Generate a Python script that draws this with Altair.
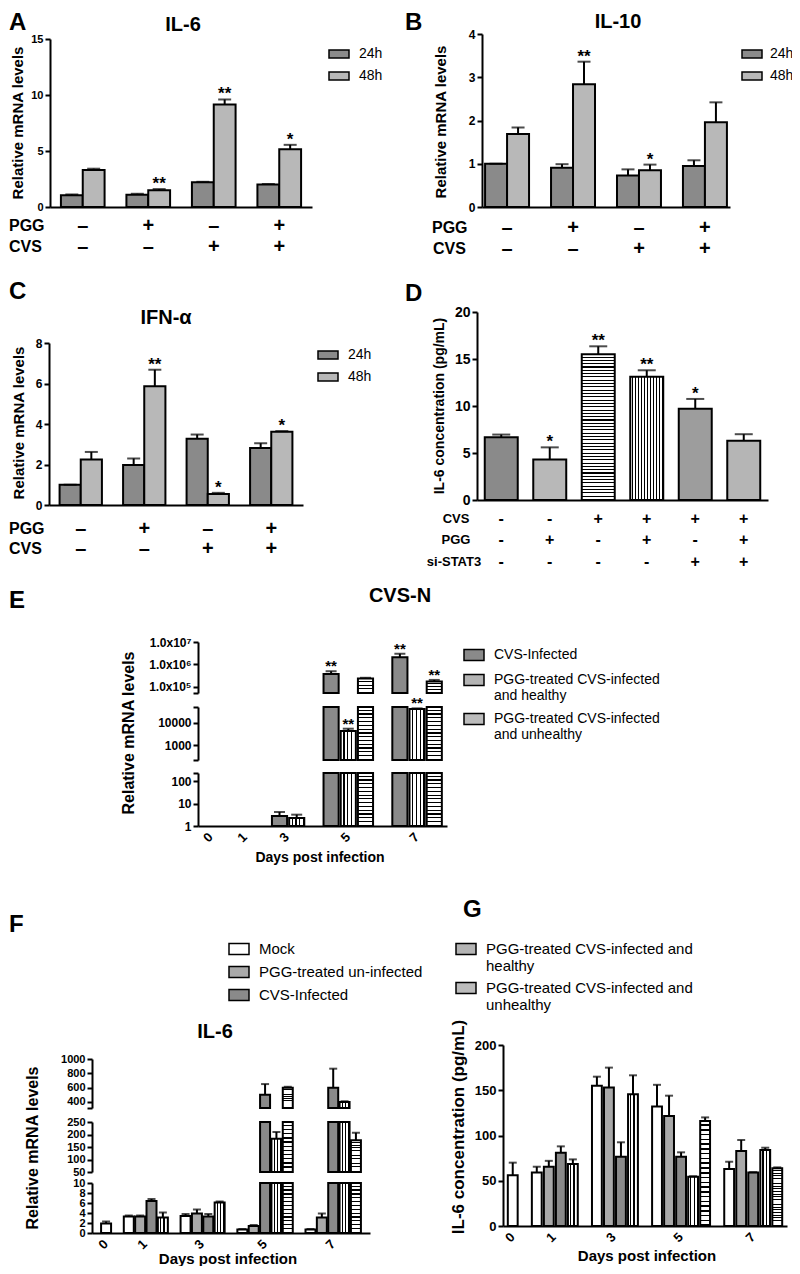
import altair as alt
import pandas as pd

W, H, M = 784, 1258, 8
FONT = "Liberation Sans"


def px(v):
    return v - M


def py(v):
    return v - M


# grey stand-ins for the hatch patterns (legend swatches and checker / diagonal fills)
FILL_FINE_CHECK = "#8a8a8a"
FILL_COARSE_CHECK = "#b8b8b8"
FILL_MOCK = "#ffffff"
FILL_DIAG = "#a9a9a9"
FILL_VERT = "#b4b4b4"
FILL_HORIZ = "#bcbcbc"
FILL_DIAG_FINE = "#9d9d9d"
FILL_DIAG_FINE2 = "#b5b5b5"

RECT_THIN = "M-1,-0.4H1V0.4H-1Z"
RECT = "M-1,-0.55H1V0.55H-1Z"

# ---------------- data: panels A, B, C ----------------
ABC_GROUPS = ["g1", "g2", "g3", "g4"]
ABC_TIMES = ["24h", "48h"]
PGG_SIGNS = ["–", "+", "–", "+"]
CVS_SIGNS = ["–", "–", "+", "+"]

A_MEAN_24 = [1.05, 1.1, 2.2, 2.0]
A_ERR_24 = [1.12, 1.18, 2.25, 2.06]
A_MEAN_48 = [3.3, 1.5, 9.15, 5.15]
A_ERR_48 = [3.42, 1.6, 9.6, 5.55]
A_STAR_48 = ["", "**", "**", "*"]

B_MEAN_24 = [1.0, 0.91, 0.73, 0.95]
B_ERR_24 = [1.0, 0.99, 0.87, 1.08]
B_MEAN_48 = [1.69, 2.84, 0.85, 1.96]
B_ERR_48 = [1.84, 3.36, 0.98, 2.42]
B_STAR_48 = ["", "**", "*", ""]

C_MEAN_24 = [1.0, 1.97, 3.27, 2.82]
C_ERR_24 = [1.0, 2.3, 3.48, 3.05]
C_MEAN_48 = [2.25, 5.86, 0.54, 3.62]
C_ERR_48 = [2.62, 6.68, 0.6, 3.65]
C_STAR_48 = ["", "**", "*", "*"]

# ---------------- data: panel D ----------------
D_CONDS = ["c1", "c2", "c3", "c4", "c5", "c6"]
D_CVS = ["-", "-", "+", "+", "+", "+"]
D_PGG = ["-", "+", "-", "+", "-", "+"]
D_STAT3 = ["-", "-", "-", "-", "+", "+"]
D_MEAN = [6.68, 4.3, 15.5, 13.1, 9.7, 6.3]
D_ERR = [6.96, 5.6, 16.35, 13.8, 10.75, 7.0]
D_STAR = ["", "*", "**", "**", "*", ""]

# ---------------- data: panel E ----------------
DAYS = [0, 1, 3, 5, 7]
S_MOCK = "Mock"
S_PGG = "PGG-treated un-infected"
S_CVS = "CVS-Infected"
S_HEALTHY = "PGG-treated CVS-infected and healthy"
S_UNHEALTHY = "PGG-treated CVS-infected and unhealthy"

E_MEAN_CVS = [1, 1, 2.8, 3.8e5, 2.1e6]
E_ERR_CVS = [None, None, 4.2, 5.0e5, 3.0e6]
E_STAR_CVS = ["", "", "", "**", "**"]
E_MEAN_HEALTHY = [None, None, 2.3, 4300, 43000]
E_ERR_HEALTHY = [None, None, 3.2, 5500, 46000]
E_STAR_HEALTHY = ["", "", "", "**", "**"]
E_MEAN_UNHEALTHY = [None, None, None, 2.4e5, 1.75e5]
E_ERR_UNHEALTHY = [None, None, None, 2.55e5, 2.05e5]
E_STAR_UNHEALTHY = ["", "", "", "", "**"]

# ---------------- data: panel F (IL-6 mRNA) ----------------
F_MEAN_MOCK = [1.9, 3.3, 3.4, 0.7, 0.7]
F_ERR_MOCK = [2.3, 3.5, 3.8, 0.8, 0.8]
F_MEAN_PGG = [None, 3.3, 3.9, 1.4, 3.1]
F_ERR_PGG = [None, 3.5, 4.7, 1.6, 3.9]
F_MEAN_CVS = [None, 6.4, 3.3, 500, 600]
F_ERR_CVS = [None, 6.8, 3.8, 650, 865]
F_MEAN_HEALTHY = [None, 3.1, 6.1, 183, 400]
F_ERR_HEALTHY = [None, 4.1, 6.3, 210, 410]
F_MEAN_UNHEALTHY = [None, None, None, 600, 177]
F_ERR_UNHEALTHY = [None, None, None, 612, 207]

# ---------------- data: panel G (IL-6 protein) ----------------
G_MEAN_MOCK = [56, 59, 155, 132, 63]
G_ERR_MOCK = [70, 65.5, 165, 156, 71]
G_MEAN_PGG = [None, 65.5, 153, 121.5, 83]
G_ERR_PGG = [None, 72, 175, 144, 95]
G_MEAN_CVS = [None, 81, 76.6, 76.6, 59]
G_ERR_CVS = [None, 88, 92.5, 81.4, 59.5]
G_MEAN_HEALTHY = [None, 68.5, 145.5, 54.5, 84]
G_ERR_HEALTHY = [None, 73.6, 166.5, 55, 86.5]
G_MEAN_UNHEALTHY = [None, None, None, 116, 63.7]
G_ERR_UNHEALTHY = [None, None, None, 120, 64.8]


# ---------------- helpers ----------------
def stripes(n, vertical, frac):
    """Linear gradient with hard stops = n black stripes on white."""
    stops = []
    for k in range(n):
        a = round(k / n, 5)
        b = round((k + 1 - frac) / n, 5)
        c = round((k + 1) / n, 5)
        stops += [{"offset": a, "color": "white"}, {"offset": b, "color": "white"},
                  {"offset": b, "color": "black"}, {"offset": c, "color": "black"}]
    return {"gradient": "linear", "stops": stops, "x1": 0, "y1": 0,
            "x2": 1 if vertical else 0, "y2": 0 if vertical else 1}


def label(text, x, y, size, bold=True, align="center", baseline="middle", angle=None):
    kw = dict(font=FONT, fontSize=size, fontWeight="bold" if bold else "normal",
              align=align, baseline=baseline, color="black")
    if angle is not None:
        kw["angle"] = angle
    return alt.Chart(pd.DataFrame({"t": [text]})).mark_text(**kw).encode(
        x=alt.value(px(x)), y=alt.value(py(y)), text="t:N")


def make_legend(x, y, fs, sym, rowpad, values=None, expr=None, offset=9):
    kw = dict(title=None, orient="none", legendX=px(x), legendY=py(y), direction="vertical",
              symbolType=sym, symbolSize=400, symbolStrokeColor="black", symbolStrokeWidth=1.5,
              labelFont=FONT, labelFontSize=fs, labelColor="black", labelLimit=600,
              labelOffset=offset, rowPadding=rowpad)
    if values:
        kw["values"] = values
    if expr:
        kw["labelExpr"] = expr
    return alt.Legend(**kw)


def bar_stack(df, xs, ys, xax, yax, fill, cap, star_fs, lo=None, hi=None, sw=2):
    src = alt.Chart(df)
    bar_src = src if lo is None else src.transform_filter(f"datum.mean > {lo}")
    cond = "isValid(datum.err)"
    if lo is not None:
        cond += f" && datum.err > {lo} && datum.err <= {hi}"
    err_src = src.transform_filter(cond)
    star_src = src.transform_filter(cond + " && datum.star != ''")

    X = alt.X("key:N", scale=xs, axis=xax)

    bars = bar_src.mark_bar(stroke="black", strokeWidth=sw).encode(
        x=X, y=alt.Y("mean:Q", scale=ys, axis=yax), y2="base:Q", fill=fill)
    rule = err_src.mark_rule(color="black", strokeWidth=sw).encode(
        x=X, y=alt.Y("mean:Q", scale=ys, axis=yax), y2="err:Q")
    tick = err_src.mark_tick(color="black", thickness=sw, size=cap, orient="horizontal").encode(
        x=X, y=alt.Y("err:Q", scale=ys, axis=yax))
    star = star_src.mark_text(font=FONT, fontSize=star_fs, fontWeight="bold", color="black",
                              baseline="alphabetic").encode(
        x=X, y=alt.Y("err:Q", scale=ys, axis=yax), text="star:N")
    return [bars, rule, tick, star]


def abc_panel(m24, e24, m48, e48, s48, ydom, yticks, xr, yr, pout, legend, tbl_y, tick_fs):
    keys, rows, tbl = [], [], []
    for i, g in enumerate(ABC_GROUPS):
        if i:
            keys.append(f"gap{i}")
        k24, k48 = f"{g}|24h", f"{g}|48h"
        keys += [k24, k48]
        rows.append({"key": k24, "series": "24h", "mean": m24[i], "err": e24[i], "star": "", "base": 0.0})
        rows.append({"key": k48, "series": "48h", "mean": m48[i], "err": e48[i], "star": s48[i], "base": 0.0})
        tbl.append({"key": k24, "PGG": PGG_SIGNS[i], "CVS": CVS_SIGNS[i]})
    df = pd.DataFrame(rows)
    tdf = pd.DataFrame(tbl)
    xs = alt.Scale(domain=keys, range=[px(xr[0]), px(xr[1])], paddingInner=0, paddingOuter=pout)
    ys = alt.Scale(domain=ydom, range=[py(yr[0]), py(yr[1])], nice=False, zero=False)
    xax = alt.Axis(orient="bottom", offset=py(yr[0]) - H, labels=False, ticks=False, title=None, grid=False)
    yax = alt.Axis(orient="left", offset=-px(xr[0]), values=yticks, title=None, grid=False,
                   labelFontSize=tick_fs, labelOverlap=False)
    fill = alt.Fill("series:N", scale=alt.Scale(domain=ABC_TIMES, range=[FILL_FINE_CHECK, FILL_COARSE_CHECK]),
                    legend=legend)
    layers = bar_stack(df, xs, ys, xax, yax, fill, cap=13, star_fs=17)
    for name, yy in zip(["PGG", "CVS"], tbl_y):
        layers.append(alt.Chart(tdf).mark_text(font=FONT, fontSize=20, fontWeight="bold", color="black",
                                               baseline="middle").encode(
            x=alt.X("key:N", scale=xs, axis=xax, bandPosition=1), y=alt.value(py(yy)), text=f"{name}:N"))
    return alt.layer(*layers)


def d_panel():
    rows = []
    for i, c in enumerate(D_CONDS):
        rows.append({"key": c, "series": c, "mean": D_MEAN[i], "err": D_ERR[i], "star": D_STAR[i],
                     "base": 0.0, "CVS": D_CVS[i], "PGG": D_PGG[i], "STAT3": D_STAT3[i]})
    df = pd.DataFrame(rows)
    xs = alt.Scale(domain=D_CONDS, range=[px(477), px(768)], paddingInner=0.32, paddingOuter=0.16)
    ys = alt.Scale(domain=[0, 20], range=[py(500), py(312)], nice=False, zero=False)
    xax = alt.Axis(orient="bottom", offset=py(500) - H, labels=False, ticks=False, title=None, grid=False)
    yax = alt.Axis(orient="left", offset=-px(477), values=[0, 5, 10, 15, 20], title=None, grid=False,
                   labelFontSize=14, labelOverlap=False)
    fill = alt.Fill("series:N", scale=alt.Scale(domain=D_CONDS, range=[
        FILL_FINE_CHECK, FILL_COARSE_CHECK, FILL_HORIZ, FILL_VERT, FILL_DIAG_FINE, FILL_DIAG_FINE2]), legend=None,
        condition=[{"test": "datum.series == 'c3'", "value": stripes(44, False, 0.32)},
                   {"test": "datum.series == 'c4'", "value": stripes(11, True, 0.3)}])
    layers = bar_stack(df, xs, ys, xax, yax, fill, cap=18, star_fs=17)
    for name, yy in zip(["CVS", "PGG", "STAT3"], [519, 540, 562]):
        layers.append(alt.Chart(df).mark_text(font=FONT, fontSize=16, fontWeight="bold", color="black",
                                              baseline="middle").encode(
            x=alt.X("key:N", scale=xs, axis=xax), y=alt.value(py(yy)), text=f"{name}:N"))
    return alt.layer(*layers)


def days_panel(series, means, errs, stars, fills, xr, pin, pout, segs, stype, base,
               yaxis_x, axis_y, leg, cap, star_fs, tick_fs, vstripes, day_fs=13):
    keys, rows, odd, even = [], [], [], []
    for j, d in enumerate(DAYS):
        slots = [s for s in series if means[s][j] is not None]
        if j:
            keys.append(f"gap{j}")
        for s in slots:
            k = f"{d}|{s}"
            keys.append(k)
            rows.append({"key": k, "series": s, "mean": means[s][j], "err": errs[s][j],
                         "star": stars[s][j] if stars else "", "base": base})
        n = len(slots)
        if n % 2:
            odd.append({"key": f"{d}|{slots[n // 2]}", "day": str(d)})
        else:
            even.append({"key": f"{d}|{slots[n // 2 - 1]}", "day": str(d)})
    df = pd.DataFrame(rows)
    xs = alt.Scale(domain=keys, range=[px(xr[0]), px(xr[1])], paddingInner=pin, paddingOuter=pout)
    xax = alt.Axis(orient="bottom", offset=py(axis_y) - H, labels=False, ticks=False,
                   title=None, grid=False)
    seg_layers = []
    for seg in segs:
        lo, hi = seg["domain"]
        fill = alt.Fill("series:N", scale=alt.Scale(domain=series, range=fills), legend=leg,
                        condition=[{"test": f"datum.series == '{S_HEALTHY}'", "value": stripes(vstripes, True, 0.35)},
                                   {"test": f"datum.series == '{S_UNHEALTHY}'",
                                    "value": stripes(seg["hstripes"], False, 0.32)}])
        ys = alt.Scale(type=stype, domain=[lo, hi], range=[py(seg["range"][0]), py(seg["range"][1])],
                       clamp=True, nice=False, zero=False)
        akw = dict(orient="left", offset=-px(yaxis_x), values=seg["ticks"], title=None, grid=False,
                   labelOverlap=False, labelFontSize=tick_fs)
        if seg.get("expr"):
            akw["labelExpr"] = seg["expr"]
        yax = alt.Axis(**akw)
        seg_layers.append(alt.layer(*bar_stack(df, xs, ys, xax, yax, fill, cap, star_fs, lo, hi)))
    labels = []
    for data, pos in ((odd, 0.5), (even, 1.0)):
        if data:
            labels.append(alt.Chart(pd.DataFrame(data)).mark_text(
                font=FONT, fontSize=day_fs, fontWeight="bold", color="black", angle=315,
                align="right", baseline="middle").encode(
                x=alt.X("key:N", scale=xs, axis=xax, bandPosition=pos),
                y=alt.value(py(axis_y + 9)), text="day:N"))
    out = alt.layer(*seg_layers, *labels)
    if len(seg_layers) > 1:
        out = out.resolve_scale(y="independent")
    return out


# ---------------- panels ----------------
pA = abc_panel(A_MEAN_24, A_ERR_24, A_MEAN_48, A_ERR_48, A_STAR_48, [0, 15], [0, 5, 10, 15],
               (50, 312), (207, 39), 0.5, make_legend(328, 43, 14, RECT_THIN, 4), (226, 247), 11)
pB = abc_panel(B_MEAN_24, B_ERR_24, B_MEAN_48, B_ERR_48, B_STAR_48, [0, 4], [0, 1, 2, 3, 4],
               (482, 730), (207, 34), 0.14, make_legend(741, 43, 14, RECT_THIN, 4, offset=7), (228, 249), 12)
pC = abc_panel(C_MEAN_24, C_ERR_24, C_MEAN_48, C_ERR_48, C_STAR_48, [0, 8], [0, 2, 4, 6, 8],
               (49, 303), (505, 343), 0.5, make_legend(317, 344, 14, RECT_THIN, 4), (529, 549), 12)
pD = d_panel()

E_SERIES = [S_CVS, S_HEALTHY, S_UNHEALTHY]
E_EXPR_LEG = ("datum.label == '" + S_HEALTHY + "' ? ['PGG-treated CVS-infected', 'and healthy'] : "
              "datum.label == '" + S_UNHEALTHY + "' ? ['PGG-treated CVS-infected', 'and unhealthy'] : datum.label")
E_SEGS = [
    dict(domain=[53700, 1e7], range=[693, 642], ticks=[53700, 1e5, 1e6, 1e7], hstripes=4,
         expr="datum.value == 100000 ? '1.0x10⁵' : datum.value == 1000000 ? '1.0x10⁶' : "
              "datum.value == 10000000 ? '1.0x10⁷' : ''"),
    dict(domain=[210, 53000], range=[760, 707], ticks=[210, 1000, 10000, 53000], hstripes=14,
         expr="(datum.value == 1000 || datum.value == 10000) ? datum.value + '' : ''"),
    dict(domain=[1, 230], range=[826, 773], ticks=[1, 10, 100, 230], hstripes=14,
         expr="datum.value == 230 ? '' : datum.value + ''"),
]
pE = days_panel(
    E_SERIES,
    {S_CVS: E_MEAN_CVS, S_HEALTHY: E_MEAN_HEALTHY, S_UNHEALTHY: E_MEAN_UNHEALTHY},
    {S_CVS: E_ERR_CVS, S_HEALTHY: E_ERR_HEALTHY, S_UNHEALTHY: E_ERR_UNHEALTHY},
    {S_CVS: E_STAR_CVS, S_HEALTHY: E_STAR_HEALTHY, S_UNHEALTHY: E_STAR_UNHEALTHY},
    [FILL_FINE_CHECK, FILL_VERT, FILL_HORIZ], (198, 447), 0.12, 0.3, E_SEGS, "log", 1.0,
    198, 826, make_legend(463, 644, 14, RECT, 5, expr=E_EXPR_LEG), cap=11, star_fs=15, tick_fs=12,
    vstripes=4)

FG_SERIES = [S_MOCK, S_PGG, S_CVS, S_HEALTHY, S_UNHEALTHY]
FG_FILLS = [FILL_MOCK, FILL_DIAG, FILL_FINE_CHECK, FILL_VERT, FILL_HORIZ]
G_EXPR_LEG = ("datum.label == '" + S_HEALTHY + "' ? ['PGG-treated CVS-infected and', 'healthy'] : "
              "datum.label == '" + S_UNHEALTHY + "' ? ['PGG-treated CVS-infected and', 'unhealthy'] : datum.label")
F_SEGS = [
    dict(domain=[316, 1000], range=[1108, 1059], ticks=[316, 400, 600, 800, 1000], hstripes=11,
         expr="datum.value == 316 ? '' : datum.value + ''"),
    dict(domain=[50, 250], range=[1172, 1122], ticks=[50, 100, 150, 200, 250], hstripes=12),
    dict(domain=[0, 10], range=[1233, 1183], ticks=[0, 2, 4, 6, 8, 10], hstripes=13),
]
pF = days_panel(
    FG_SERIES,
    {S_MOCK: F_MEAN_MOCK, S_PGG: F_MEAN_PGG, S_CVS: F_MEAN_CVS, S_HEALTHY: F_MEAN_HEALTHY, S_UNHEALTHY: F_MEAN_UNHEALTHY},
    {S_MOCK: F_ERR_MOCK, S_PGG: F_ERR_PGG, S_CVS: F_ERR_CVS, S_HEALTHY: F_ERR_HEALTHY, S_UNHEALTHY: F_ERR_UNHEALTHY},
    None, FG_FILLS, (92, 370), 0.12, 0.8, F_SEGS, "linear", 0.0, 92, 1233,
    make_legend(228, 938, 15, RECT, 3, values=[S_MOCK, S_PGG, S_CVS]), cap=8, star_fs=15, tick_fs=11,
    vstripes=3)

G_SEGS = [dict(domain=[0, 200], range=[1226, 1045], ticks=[0, 50, 100, 150, 200], hstripes=22)]
pG = days_panel(
    FG_SERIES,
    {S_MOCK: G_MEAN_MOCK, S_PGG: G_MEAN_PGG, S_CVS: G_MEAN_CVS, S_HEALTHY: G_MEAN_HEALTHY, S_UNHEALTHY: G_MEAN_UNHEALTHY},
    {S_MOCK: G_ERR_MOCK, S_PGG: G_ERR_PGG, S_CVS: G_ERR_CVS, S_HEALTHY: G_ERR_HEALTHY, S_UNHEALTHY: G_ERR_UNHEALTHY},
    None, FG_FILLS, (503, 787), 0.18, 0.4, G_SEGS, "linear", 0.0, 503, 1226,
    make_legend(455, 938, 15, RECT, 3, values=[S_HEALTHY, S_UNHEALTHY], expr=G_EXPR_LEG),
    cap=8, star_fs=15, tick_fs=13, vstripes=3)

annotations = [
    label("A", 9, 30, 24, align="left", baseline="alphabetic"),
    label("IL-6", 183, 25, 20),
    label("Relative mRNA levels", 18, 123, 15, angle=270),
    label("PGG", 9, 226, 16, align="left"),
    label("CVS", 9, 247, 16, align="left"),
    label("B", 405, 30, 24, align="left", baseline="alphabetic"),
    label("IL-10", 618, 22, 20),
    label("Relative mRNA levels", 441, 122, 15, angle=270),
    label("PGG", 432, 228, 16, align="left"),
    label("CVS", 433, 249, 16, align="left"),
    label("C", 9, 299, 24, align="left", baseline="alphabetic"),
    label("IFN-α", 166, 318, 20),
    label("Relative mRNA levels", 19, 423, 15, angle=270),
    label("PGG", 9, 529, 16, align="left"),
    label("CVS", 9, 549, 16, align="left"),
    label("D", 405, 301, 24, align="left", baseline="alphabetic"),
    label("IL-6 concentration (pg/mL)", 440, 406, 14, angle=270),
    label("CVS", 456, 519, 13),
    label("PGG", 456, 540, 13),
    label("si-STAT3", 454, 562, 13),
    label("E", 9, 608, 24, align="left", baseline="alphabetic"),
    label("CVS-N", 400, 596, 20),
    label("Relative mRNA levels", 129, 733, 16, angle=270),
    label("Days post infection", 320, 858, 14),
    label("F", 9, 932, 24, align="left", baseline="alphabetic"),
    label("IL-6", 215, 1032, 20),
    label("Relative mRNA levels", 33, 1148, 16, angle=270),
    label("Days post infection", 228, 1259, 15),
    label("G", 463, 917, 24, align="left", baseline="alphabetic"),
    label("IL-6 concentration (pg/mL)", 459, 1127, 17, angle=270),
    label("Days post infection", 647, 1256, 15),
]

chart = alt.layer(pA, pB, pC, pD, pE, pF, pG, *annotations).resolve_scale(
    x="independent", y="independent", fill="independent"
).properties(
    width=W, height=H, padding=0, autosize=alt.AutoSizeParams(type="none")
).configure_view(stroke=None).configure_axis(
    labelFont=FONT, labelFontWeight="bold", labelColor="black", domainColor="black",
    domainWidth=2, tickColor="black", tickWidth=2, tickSize=5, labelPadding=2, grid=False
)

chart.save("out.html", embed_options={"renderer": "svg", "actions": False})
